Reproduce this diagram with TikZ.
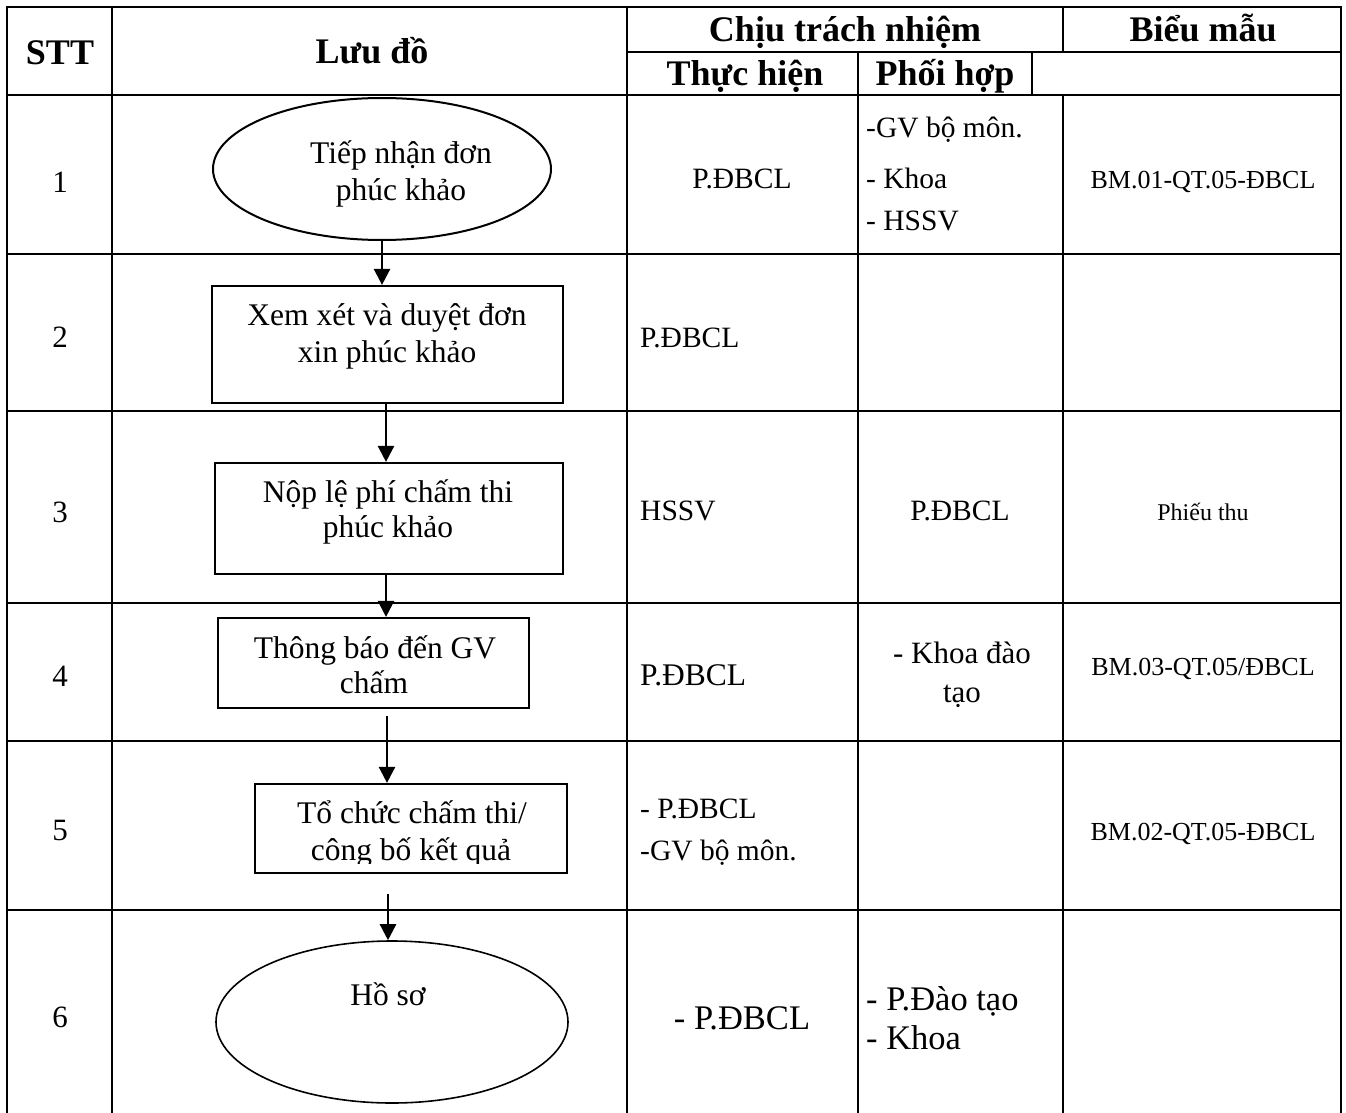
\documentclass[tikz,border=0pt]{standalone}
\usepackage{fontspec}
\setmainfont{Liberation Serif}
\usetikzlibrary{arrows.meta,shapes.geometric}
\tikzset{
  grid/.style={line width=2.9pt,line cap=rect},
  hdr/.style={anchor=base,font=\fontsize{36}{40}\selectfont\bfseries,inner sep=0},
  num/.style={anchor=base,font=\fontsize{31}{37}\selectfont,inner sep=0},
  ftxt/.style={anchor=base,font=\fontsize{31.5}{37}\selectfont,inner sep=0},
  ctxt/.style={anchor=base,font=\fontsize{29.5}{35}\selectfont,inner sep=0},
  ltxt/.style={anchor=base west,font=\fontsize{29.5}{35}\selectfont,inner sep=0},
  btxt/.style={anchor=base,font=\fontsize{34.5}{40}\selectfont,inner sep=0},
  lbtxt/.style={anchor=base west,font=\fontsize{34.5}{40}\selectfont,inner sep=0},
  bm/.style={anchor=base,font=\fontsize{26}{30}\selectfont,inner sep=0},
  procbox/.style={draw,line width=2.2pt,rectangle,inner sep=0},
  term/.style={draw,line width=2pt,ellipse,inner sep=0},
  flow/.style={line width=2.5pt,-{Triangle[length=16pt,width=16pt]}},
}
\begin{document}
\begin{tikzpicture}[x=1pt,y=-1pt]
\useasboundingbox (0,0) rectangle (1346,1113);
% ---- table grid ----
\draw[grid] (7,7) -- (1341,7);
\draw[grid] (627,52) -- (1341,52);
\draw[grid] (7,95) -- (1341,95);
\foreach \yy in {254,411,603,741,910} {\draw[grid] (7,\yy) -- (1341,\yy);}
\draw[grid] (7,7) -- (7,1113);
\draw[grid] (112,7) -- (112,1113);
\draw[grid] (627,7) -- (627,1113);
\draw[grid] (858,52) -- (858,1113);
\draw[grid] (1032,52) -- (1032,95);
\draw[grid] (1063,7) -- (1063,52);
\draw[grid] (1063,95) -- (1063,1113);
\draw[grid] (1341,7) -- (1341,1113);
% ---- header ----
\node[hdr] (hstt) at (60,65) {STT};
\node[hdr] (hluu) at (372,64) {Lưu đồ};
\node[hdr] (hctn) at (845,42) {Chịu trách nhiệm};
\node[hdr] (hbm) at (1203,42) {Biểu mẫu};
\node[hdr] (hth) at (745,86) {Thực hiện};
\node[hdr] (hph) at (945,86) {Phối hợp};
% ---- row numbers ----
\node[num] (n1) at (60,192) {1};
\node[num] (n2) at (60,347) {2};
\node[num] (n3) at (60,522) {3};
\node[num] (n4) at (60,686) {4};
\node[num] (n5) at (60,840) {5};
\node[num] (n6) at (60,1027) {6};
% ---- flowchart shapes ----
\node[term,minimum width=338pt,minimum height=142pt] (e1) at (382,169) {};
\node[ftxt] (e1a) at (401,163) {Tiếp nhận đơn};
\node[ftxt] (e1b) at (401,200) {phúc khảo};
\node[procbox,minimum width=351pt,minimum height=117pt] (b2) at (387.5,344.5) {};
\node[ftxt] (b2a) at (387,325) {Xem xét và duyệt đơn};
\node[ftxt] (b2b) at (387,362) {xin phúc khảo};
\node[procbox,minimum width=348pt,minimum height=111pt] (b3) at (389,518.5) {};
\node[ftxt] (b3a) at (388,502) {Nộp lệ phí chấm thi};
\node[ftxt] (b3b) at (388,537) {phúc khảo};
\node[procbox,minimum width=311pt,minimum height=90pt] (b4) at (373.5,663) {};
\node[ftxt] (b4a) at (375,658) {Thông báo đến GV};
\node[ftxt] (b4b) at (374,693) {chấm};
\node[procbox,minimum width=312pt,minimum height=89pt] (b5) at (411,828.5) {};
\node[ftxt] (b5a) at (412,823) {Tổ chức chấm thi/};
\begin{scope}
\clip (256,785) rectangle (566,863);
\node[ftxt] (b5b) at (411,860) {công bố kết quả};
\end{scope}
\node[term,line width=1.6pt,minimum width=352pt,minimum height=162pt] (e6) at (392,1022) {};
\node[ftxt] (e6a) at (388,1005) {Hồ sơ};
% ---- connectors ----
\coordinate (a4) at (387,716);
\coordinate (a5) at (388,894);
\draw[flow] (e1.south) -- (e1.south |- b2.north);
\draw[flow] ([xshift=-1.5pt]b2.south) -- ([xshift=-1.5pt]b2.south |- b3.north);
\draw[flow] ([xshift=-3pt]b3.south) -- ([xshift=-3pt]b3.south |- b4.north);
\draw[flow] (a4) -- (a4 |- b5.north);
\draw[flow] (a5) -- (a5 |- e6.north);
% ---- Thuc hien column ----
\node[ctxt] (t1) at (742,188) {P.ĐBCL};
\node[ltxt] (t2) at (640,347) {P.ĐBCL};
\node[ltxt] (t3) at (640,520) {HSSV};
\node[ltxt,font=\fontsize{31.5}{37}\selectfont] (t4) at (640,685) {P.ĐBCL};
\node[ltxt] (t5a) at (640,818) {- P.ĐBCL};
\node[ltxt] (t5b) at (640,860) {-GV bộ môn.};
\node[btxt] (t6) at (742,1029) {- P.ĐBCL};
% ---- Phoi hop column ----
\node[ltxt] (p1a) at (866,138) {-GV bộ môn.};
\node[ltxt] (p1b) at (866,188) {- Khoa};
\node[ltxt] (p1c) at (866,230) {- HSSV};
\node[ctxt] (p3) at (960,520) {P.ĐBCL};
\node[ctxt,font=\fontsize{31}{37}\selectfont] (p4a) at (962,663) {- Khoa đào};
\node[ctxt,font=\fontsize{31}{37}\selectfont] (p4b) at (962,702) {tạo};
\node[lbtxt] (p6a) at (866,1010) {- P.Đào tạo};
\node[lbtxt] (p6b) at (866,1049) {- Khoa};
% ---- Bieu mau column ----
\node[bm] (m1) at (1203,188) {BM.01-QT.05-ĐBCL};
\node[bm,font=\fontsize{24}{28}\selectfont] (m3) at (1203,520) {Phiếu thu};
\node[bm] (m4) at (1203,675) {BM.03-QT.05/ĐBCL};
\node[bm] (m5) at (1203,840) {BM.02-QT.05-ĐBCL};
\end{tikzpicture}
\end{document}
